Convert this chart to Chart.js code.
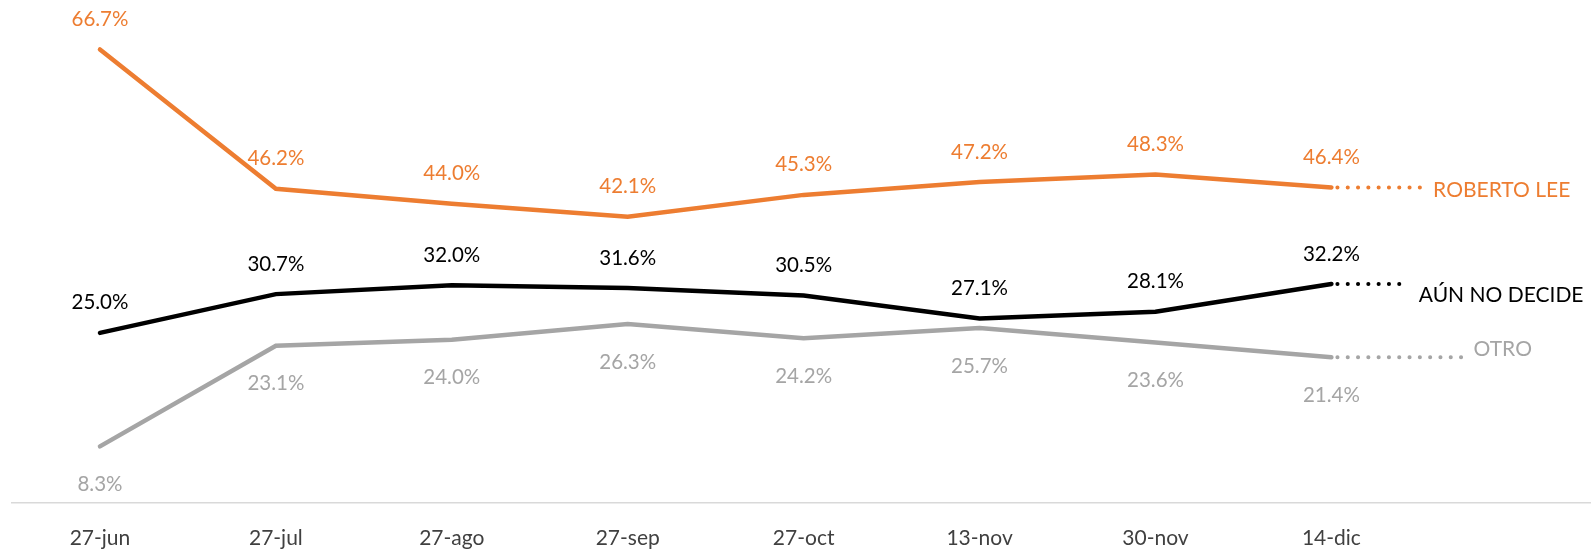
<!DOCTYPE html>
<html>
<head>
<meta charset="utf-8">
<script src="https://cdn.jsdelivr.net/npm/chart.js@4.4.1/dist/chart.umd.min.js"></script>
<style>
  html, body { margin: 0; padding: 0; background: #fff; }
  #wrap { width: 1593px; height: 553px; position: relative; }
</style>
</head>
<body>
<div id="wrap"><canvas id="trendChart"></canvas></div>
<script>
const categories = ["27-jun", "27-jul", "27-ago", "27-sep", "27-oct", "13-nov", "30-nov", "14-dic"];
const robertoLee = [66.7, 46.2, 44.0, 42.1, 45.3, 47.2, 48.3, 46.4];
const noDecide = [25.0, 30.7, 32.0, 31.6, 30.5, 27.1, 28.1, 32.2];
const otro = [8.3, 23.1, 24.0, 26.3, 24.2, 25.7, 23.6, 21.4];
const seriesNames = ["ROBERTO LEE", "AÚN NO DECIDE", "OTRO"];
// where each dotted leader line stops, in category units
const leaderEnds = [7.51, 7.4, 7.74];

const ORANGE = "#ED7D31";
const BLACK = "#000000";
const GRAY = "#A5A5A5";
const FONT = "Lato, 'Noto Sans', sans-serif";

function toPoints(values) {
  return values.map((v, i) => ({ x: i, y: v }));
}

function leader(values, end) {
  const last = values.length - 1;
  return [
    { x: last, y: values[last] },
    { x: end, y: values[last] },
  ];
}

function mainLine(values, color, offset) {
  return {
    data: toPoints(values),
    values: values,
    valueOffset: offset,
    borderColor: color,
    borderWidth: 4.5,
    borderCapStyle: "round",
    pointRadius: 0,
    tension: 0,
  };
}

function dottedLine(values, end, color, name, gap, shift) {
  return {
    data: leader(values, end),
    seriesName: name,
    nameGap: gap,
    nameShift: shift,
    borderColor: color,
    borderWidth: 4,
    borderDash: [0.1, 10.2],
    borderDashOffset: -6,
    borderCapStyle: "round",
    pointRadius: 0,
  };
}

// value labels over/under every point and the series name after each leader
const labelPlugin = {
  id: "seriesLabels",
  afterDatasetsDraw(chart) {
    const ctx = chart.ctx;
    ctx.save();
    ctx.textBaseline = "middle";
    chart.data.datasets.forEach((ds, i) => {
      const meta = chart.getDatasetMeta(i);
      ctx.fillStyle = ds.borderColor;
      if (ds.values) {
        ctx.font = "20.5px " + FONT;
        ctx.textAlign = "center";
        meta.data.forEach((pt, j) => {
          ctx.fillText(ds.values[j].toFixed(1) + "%", pt.x, pt.y + ds.valueOffset);
        });
      }
      if (ds.seriesName) {
        const end = meta.data[meta.data.length - 1];
        ctx.font = "21px " + FONT;
        ctx.textAlign = "left";
        ctx.fillText(ds.seriesName, end.x + ds.nameGap, end.y + ds.nameShift);
      }
    });
    ctx.restore();
  },
};

document.addEventListener("DOMContentLoaded", function () {
  const ctx = document.getElementById("trendChart").getContext("2d");
  new Chart(ctx, {
    type: "line",
    data: {
      datasets: [
        mainLine(otro, GRAY, 38),
        mainLine(noDecide, BLACK, -30),
        mainLine(robertoLee, ORANGE, -30),
        dottedLine(otro, leaderEnds[2], GRAY, seriesNames[2], 12, -8),
        dottedLine(noDecide, leaderEnds[1], BLACK, seriesNames[1], 17, 11),
        dottedLine(robertoLee, leaderEnds[0], ORANGE, seriesNames[0], 12, 3),
      ],
    },
    options: {
      responsive: true,
      maintainAspectRatio: false,
      animation: false,
      layout: {
        padding: { top: 27, left: 12, right: 3, bottom: -21 },
      },
      plugins: {
        legend: { display: false },
        tooltip: { enabled: false },
      },
      scales: {
        x: {
          type: "linear",
          min: -0.5,
          max: 8.47,
          afterBuildTicks: (scale) => {
            scale.ticks = categories.map((c, i) => ({ value: i }));
          },
          grid: { display: false, drawTicks: false },
          border: { display: true, color: "#D9D9D9", width: 1.5 },
          ticks: {
            padding: 23,
            color: "#404040",
            font: { family: FONT, size: 21 },
            callback: (v) => categories[v] ?? "",
          },
        },
        y: {
          display: false,
          min: 0,
          max: 70,
        },
      },
    },
    plugins: [labelPlugin],
  });
});
</script>
</body>
</html>
